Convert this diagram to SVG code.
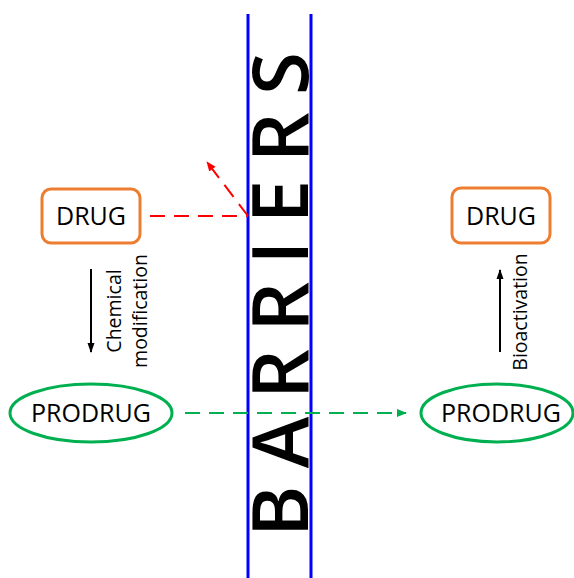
<svg xmlns="http://www.w3.org/2000/svg" width="574" height="578" viewBox="0 0 574 578">
<style>
.lbl{font-family:"Open Sans","Liberation Sans",sans-serif;fill:#000}
.big{font-size:25px}
.small{font-size:19.5px}
.drug{fill:#fff;stroke:#ED7D31;stroke-width:3}
.pro{fill:#fff;stroke:#00B050;stroke-width:3}
.bar{stroke:#0000FF;stroke-width:3}
</style>
<defs>
<marker id="ab" markerWidth="10" markerHeight="10" refX="9" refY="5" orient="auto" markerUnits="userSpaceOnUse"><path d="M0,1.5 L10,5 L0,8.5 z" fill="#000"/></marker>
<marker id="ar" markerWidth="10" markerHeight="10" refX="9" refY="5" orient="auto" markerUnits="userSpaceOnUse"><path d="M0,1 L10,5 L0,9 z" fill="#FF0000"/></marker>
<marker id="ag" markerWidth="10" markerHeight="10" refX="9" refY="5" orient="auto" markerUnits="userSpaceOnUse"><path d="M0,1 L10,5 L0,9 z" fill="#00B050"/></marker>
</defs>
<rect width="574" height="578" fill="#fff"/>
<g id="barriers">
<line class="bar" x1="248" y1="14" x2="248" y2="578"/>
<line class="bar" x1="311" y1="14" x2="311" y2="578"/>
<text class="lbl" font-size="78" font-weight="600" transform="translate(308,537) rotate(-90)" textLength="485" lengthAdjust="spacing">BARRIERS</text>
</g>
<g id="connectors" fill="none">
<line x1="150" y1="216" x2="248" y2="216" stroke="#FF0000" stroke-width="2" stroke-dasharray="15,9"/>
<line x1="248" y1="216" x2="207" y2="162" stroke="#FF0000" stroke-width="2" stroke-dasharray="15,9" marker-end="url(#ar)"/>
<line x1="91" y1="269" x2="91" y2="352" stroke="#000" stroke-width="2" marker-end="url(#ab)"/>
<line x1="185" y1="413" x2="406" y2="413" stroke="#00B050" stroke-width="2" stroke-dasharray="15,9" marker-end="url(#ag)"/>
<line x1="500" y1="352" x2="500" y2="270" stroke="#000" stroke-width="2" marker-end="url(#ab)"/>
<text class="lbl small" text-anchor="middle" transform="translate(121,311) rotate(-90)">Chemical</text>
<text class="lbl small" text-anchor="middle" transform="translate(147,311) rotate(-90)">modification</text>
<text class="lbl small" text-anchor="middle" transform="translate(527,312) rotate(-90)">Bioactivation</text>
</g>
<g id="drug-left">
<rect class="drug" x="42" y="189" width="98" height="54" rx="9"/>
<text class="lbl big" x="91" y="225" text-anchor="middle">DRUG</text>
</g>
<g id="prodrug-left">
<ellipse class="pro" cx="91" cy="413" rx="81" ry="29"/>
<text class="lbl big" x="91" y="422" text-anchor="middle">PRODRUG</text>
</g>
<g id="drug-right">
<rect class="drug" x="452" y="188" width="98" height="55" rx="9"/>
<text class="lbl big" x="501" y="225" text-anchor="middle">DRUG</text>
</g>
<g id="prodrug-right">
<ellipse class="pro" cx="497" cy="413" rx="76" ry="29"/>
<text class="lbl big" x="501" y="422" text-anchor="middle">PRODRUG</text>
</g>
</svg>
